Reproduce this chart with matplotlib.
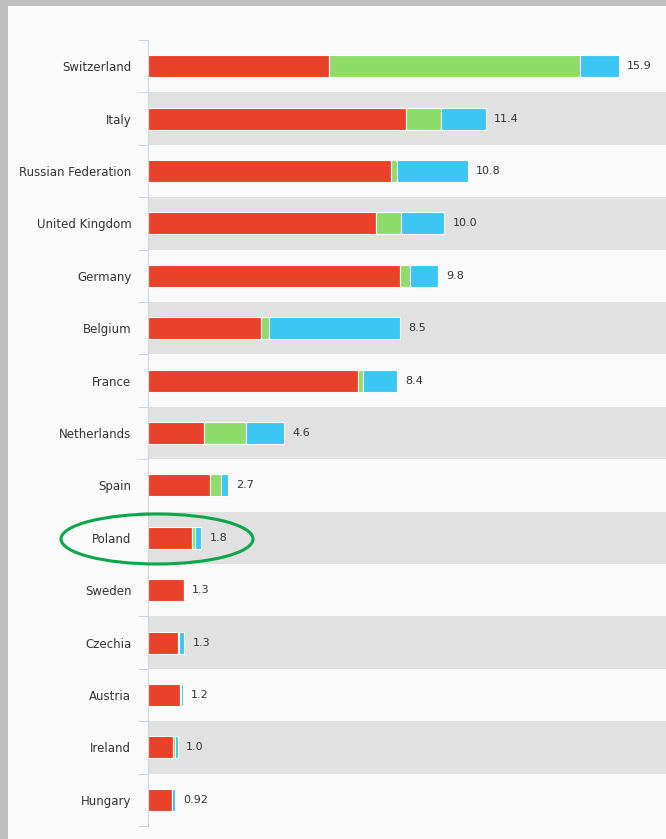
import numpy as np
import matplotlib
matplotlib.use("Agg")
import matplotlib.pyplot as plt
from matplotlib.patches import Ellipse, Rectangle

countries = ["Switzerland", "Italy", "Russian Federation", "United Kingdom", "Germany",
             "Belgium", "France", "Netherlands", "Spain", "Poland", "Sweden",
             "Czechia", "Austria", "Ireland", "Hungary"]
red_vals = [6.1, 8.7, 8.2, 7.7, 8.5, 3.8, 7.1, 1.9, 2.1, 1.5, 1.2, 1.0, 1.08, 0.85, 0.8]
green_vals = [8.5, 1.2, 0.2, 0.85, 0.35, 0.3, 0.15, 1.4, 0.35, 0.1, 0.0, 0.05, 0.02, 0.05, 0.02]
blue_vals = [1.3, 1.5, 2.4, 1.45, 0.95, 4.4, 1.15, 1.3, 0.25, 0.2, 0.0, 0.17, 0.08, 0.1, 0.1]
totals = ["15.9", "11.4", "10.8", "10.0", "9.8", "8.5", "8.4", "4.6", "2.7", "1.8",
          "1.3", "1.3", "1.2", "1.0", "0.92"]

RED = "#e8432a"
GREEN = "#8fdc6c"
BLUE = "#3bc6f3"
BG = "#fafafa"
BAND = "#e1e1e1"
AXIS = "#ccd6eb"

W, H = 666, 839
fig = plt.figure(figsize=(W / 100, H / 100), dpi=100, facecolor=BG)

# grey frame on the top and left edges
fig.patches.append(Rectangle((0, 0), 8 / W, 1, transform=fig.transFigure,
                             facecolor="#c0c0c0", edgecolor="none", zorder=0))
fig.patches.append(Rectangle((0, 1 - 6 / H), 1, 6 / H, transform=fig.transFigure,
                             facecolor="#c0c0c0", edgecolor="none", zorder=0))

left, right, top, bottom = 148, 666, 40, 826
ax = fig.add_axes([left / W, 1 - bottom / H, (right - left) / W, (bottom - top) / H])
ax.set_facecolor(BG)

n = len(countries)
y = np.arange(n)
red = np.array(red_vals)
green = np.array(green_vals)
blue = np.array(blue_vals)

for i in y:
    if i % 2 == 1:
        ax.axhspan(i - 0.5, i + 0.5, color=BAND, zorder=0, lw=0)

bh = 0.42
ax.barh(y, red, height=bh, color=RED, edgecolor="white", linewidth=0.8, zorder=2)
ax.barh(y, green, left=red, height=bh, color=GREEN, edgecolor="white", linewidth=0.8, zorder=2)
ax.barh(y, blue, left=red + green, height=bh, color=BLUE, edgecolor="white", linewidth=0.8, zorder=2)

ends = red + green + blue
for i in y:
    ax.annotate(totals[i], (ends[i], i), xytext=(6, 0), textcoords="offset points",
                va="center", ha="left", fontsize=8, color="#333333")

px_per_unit = 29.62
ax.set_xlim(0, (right - left) / px_per_unit)
ax.set_ylim(n - 0.5, -0.5)

ax.set_yticks(y)
ax.set_yticklabels(countries, fontsize=8.5, color="#333333")
ax.set_yticks(np.arange(n + 1) - 0.5, minor=True)
ax.tick_params(axis="y", which="major", length=0, pad=12)
ax.tick_params(axis="y", which="minor", length=7.2, color=AXIS, width=0.8)
ax.set_xticks([])
for s in ["top", "right", "bottom"]:
    ax.spines[s].set_visible(False)
ax.spines["left"].set_color(AXIS)
ax.spines["left"].set_linewidth(0.8)

# green ring around Poland
ell = Ellipse((157 / W, 1 - 539 / H), 192 / W, 50 / H, transform=fig.transFigure,
              fill=False, edgecolor="#0aa64a", linewidth=2.2, zorder=5)
fig.patches.append(ell)

fig.savefig("out.png", dpi=100, facecolor=BG)
